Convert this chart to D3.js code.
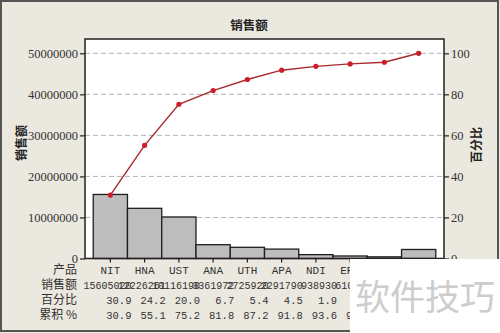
<!DOCTYPE html>
<html>
<head>
<meta charset="utf-8">
<script src="https://cdn.jsdelivr.net/npm/d3@7"></script>
<style>
  html, body { margin: 0; padding: 0; background: #fff; }
  svg { display: block; }
</style>
</head>
<body>
<svg id="chart" width="500" height="333"></svg>
<script>
// Products in descending order of sales (last one groups the rest)
const products = ["NIT", "HNA", "UST", "ANA", "UTH", "APA", "NDI", "ERI", "RSC", "其他"];
// Sales amount per product
const sales = [15605020, 12226261, 10116190, 3361972, 2725920, 2291790, 938930, 610810, 403840, 2199420];
const leftTicks = [0, 10000000, 20000000, 30000000, 40000000, 50000000];
const rightTicks = [0, 20, 40, 60, 80, 100];
const rowLabels = ["产品", "销售额", "百分比", "累积 %"];

const total = d3.sum(sales);
const pct = sales.map(v => v / total * 100);
const cum = d3.cumsum(pct);

const W = 500, H = 333;
const plot = { left: 85, right: 444, top: 39, bottom: 258.5 };

const svg = d3.select("#chart");

// panel background and frame
svg.append("rect").attr("x", 0).attr("y", 0).attr("width", W).attr("height", H).attr("fill", "#ebe8df");
svg.append("rect").attr("x", 1).attr("y", 1).attr("width", 497).attr("height", 330)
  .attr("fill", "none").attr("stroke", "#555").attr("stroke-width", 2);

// plot area
svg.append("rect").attr("x", plot.left).attr("y", plot.top)
  .attr("width", plot.right - plot.left).attr("height", plot.bottom - plot.top)
  .attr("fill", "#fff");

const x = d3.scaleBand().domain(products).range([plot.left, plot.right])
  .paddingInner(0).paddingOuter(0.24);
const yL = d3.scaleLinear().domain([0, 53480000]).range([plot.bottom, plot.top]);
const yR = d3.scaleLinear().domain([0, 106.97]).range([plot.bottom, plot.top]);

// grid lines
svg.append("g").selectAll("line").data(leftTicks.filter(d => d > 0)).join("line")
  .attr("x1", plot.left).attr("x2", plot.right)
  .attr("y1", d => yL(d)).attr("y2", d => yL(d))
  .attr("stroke", "#b4b4b4").attr("stroke-width", 1).attr("stroke-dasharray", "5,3");

// bars
svg.append("g").selectAll("rect").data(sales).join("rect")
  .attr("x", (d, i) => x(products[i]))
  .attr("y", d => yL(d))
  .attr("width", x.bandwidth())
  .attr("height", d => plot.bottom - yL(d))
  .attr("fill", "#bdbdbd").attr("stroke", "#1e1e1e").attr("stroke-width", 1.3);

// cumulative percent line
const line = d3.line()
  .x((d, i) => x(products[i]) + x.bandwidth() / 2)
  .y(d => yR(d));
svg.append("path").datum(cum).attr("d", line)
  .attr("fill", "none").attr("stroke", "#a8282c").attr("stroke-width", 1.4);
svg.append("g").selectAll("circle").data(cum).join("circle")
  .attr("cx", (d, i) => x(products[i]) + x.bandwidth() / 2)
  .attr("cy", d => yR(d))
  .attr("r", 2.6).attr("fill", "#cc1e28");

// plot frame
svg.append("rect").attr("x", plot.left).attr("y", plot.top)
  .attr("width", plot.right - plot.left).attr("height", plot.bottom - plot.top)
  .attr("fill", "none").attr("stroke", "#222").attr("stroke-width", 1.5);

// axes
const numFont = "'Liberation Serif', serif";
const axL = svg.append("g").attr("transform", `translate(${plot.left},0)`)
  .call(d3.axisLeft(yL).tickValues(leftTicks).tickSize(5).tickPadding(2).tickFormat(d3.format("d")));
const axR = svg.append("g").attr("transform", `translate(${plot.right},0)`)
  .call(d3.axisRight(yR).tickValues(rightTicks).tickSize(5).tickPadding(2).tickFormat(d3.format("d")));
const axB = svg.append("g").attr("transform", `translate(0,${plot.bottom})`)
  .call(d3.axisBottom(x).tickSize(4).tickFormat(""));
[axL, axR, axB].forEach(a => {
  a.select(".domain").remove();
  a.selectAll(".tick line").attr("stroke", "#222").attr("stroke-width", 1.2);
  a.selectAll(".tick text").attr("fill", "#333").style("font-family", numFont).style("font-size", "12.5px");
});

// title and axis labels
const cjk = "'Noto Sans CJK SC', sans-serif";
svg.append("text").attr("x", 249).attr("y", 30).attr("text-anchor", "middle")
  .style("font-family", cjk).style("font-size", "12.5px").style("font-weight", "bold")
  .attr("fill", "#222").text("销售额");
svg.append("text").attr("transform", "translate(26,143) rotate(-90)").attr("text-anchor", "middle")
  .style("font-family", cjk).style("font-size", "12px").style("font-weight", "bold")
  .attr("fill", "#222").text("销售额");
svg.append("text").attr("transform", "translate(481,145) rotate(-90)").attr("text-anchor", "middle")
  .style("font-family", cjk).style("font-size", "12px").style("font-weight", "bold")
  .attr("fill", "#222").text("百分比");

// data table below the chart, clipped where the corner block covers it
svg.append("clipPath").attr("id", "tableClip")
  .append("rect").attr("x", 0).attr("y", 0).attr("width", 350).attr("height", H);
const rowY = [274, 289, 304, 319];
const monoFont = "'Liberation Mono', monospace";
const tbl = svg.append("g").attr("fill", "#333").attr("clip-path", "url(#tableClip)");
tbl.selectAll("text.rl").data(rowLabels).join("text").attr("class", "rl")
  .attr("x", 77).attr("y", (d, i) => rowY[i]).attr("text-anchor", "end")
  .style("font-family", cjk).style("font-size", "12px").text(d => d);
tbl.selectAll("text.p").data(products).join("text").attr("class", "p")
  .attr("x", d => x(d) + x.bandwidth() / 2).attr("y", rowY[0]).attr("text-anchor", "middle")
  .style("font-family", monoFont).style("font-size", "11px").text(d => d);
const colRight = i => x(products[i]) + x.bandwidth() + 4;
tbl.selectAll("text.s").data(sales).join("text").attr("class", "s")
  .attr("x", (d, i) => colRight(i)).attr("y", rowY[1]).attr("text-anchor", "end")
  .style("font-family", monoFont).style("font-size", "10px").text(d => d);
tbl.selectAll("text.pc").data(pct).join("text").attr("class", "pc")
  .attr("x", (d, i) => colRight(i)).attr("y", rowY[2]).attr("text-anchor", "end")
  .style("font-family", monoFont).style("font-size", "10.5px").text(d => d.toFixed(1));
tbl.selectAll("text.c").data(cum).join("text").attr("class", "c")
  .attr("x", (d, i) => colRight(i)).attr("y", rowY[3]).attr("text-anchor", "end")
  .style("font-family", monoFont).style("font-size", "10.5px").text(d => d.toFixed(1));

// watermark block in the lower right corner
svg.append("rect").attr("x", 350).attr("y", 259).attr("width", 150).attr("height", 74).attr("fill", "#fff");
svg.append("text").attr("x", 355).attr("y", 310)
  .style("font-family", cjk).style("font-size", "35px")
  .attr("fill", "#cdcdcd").text("软件技巧");
</script>
</body>
</html>
